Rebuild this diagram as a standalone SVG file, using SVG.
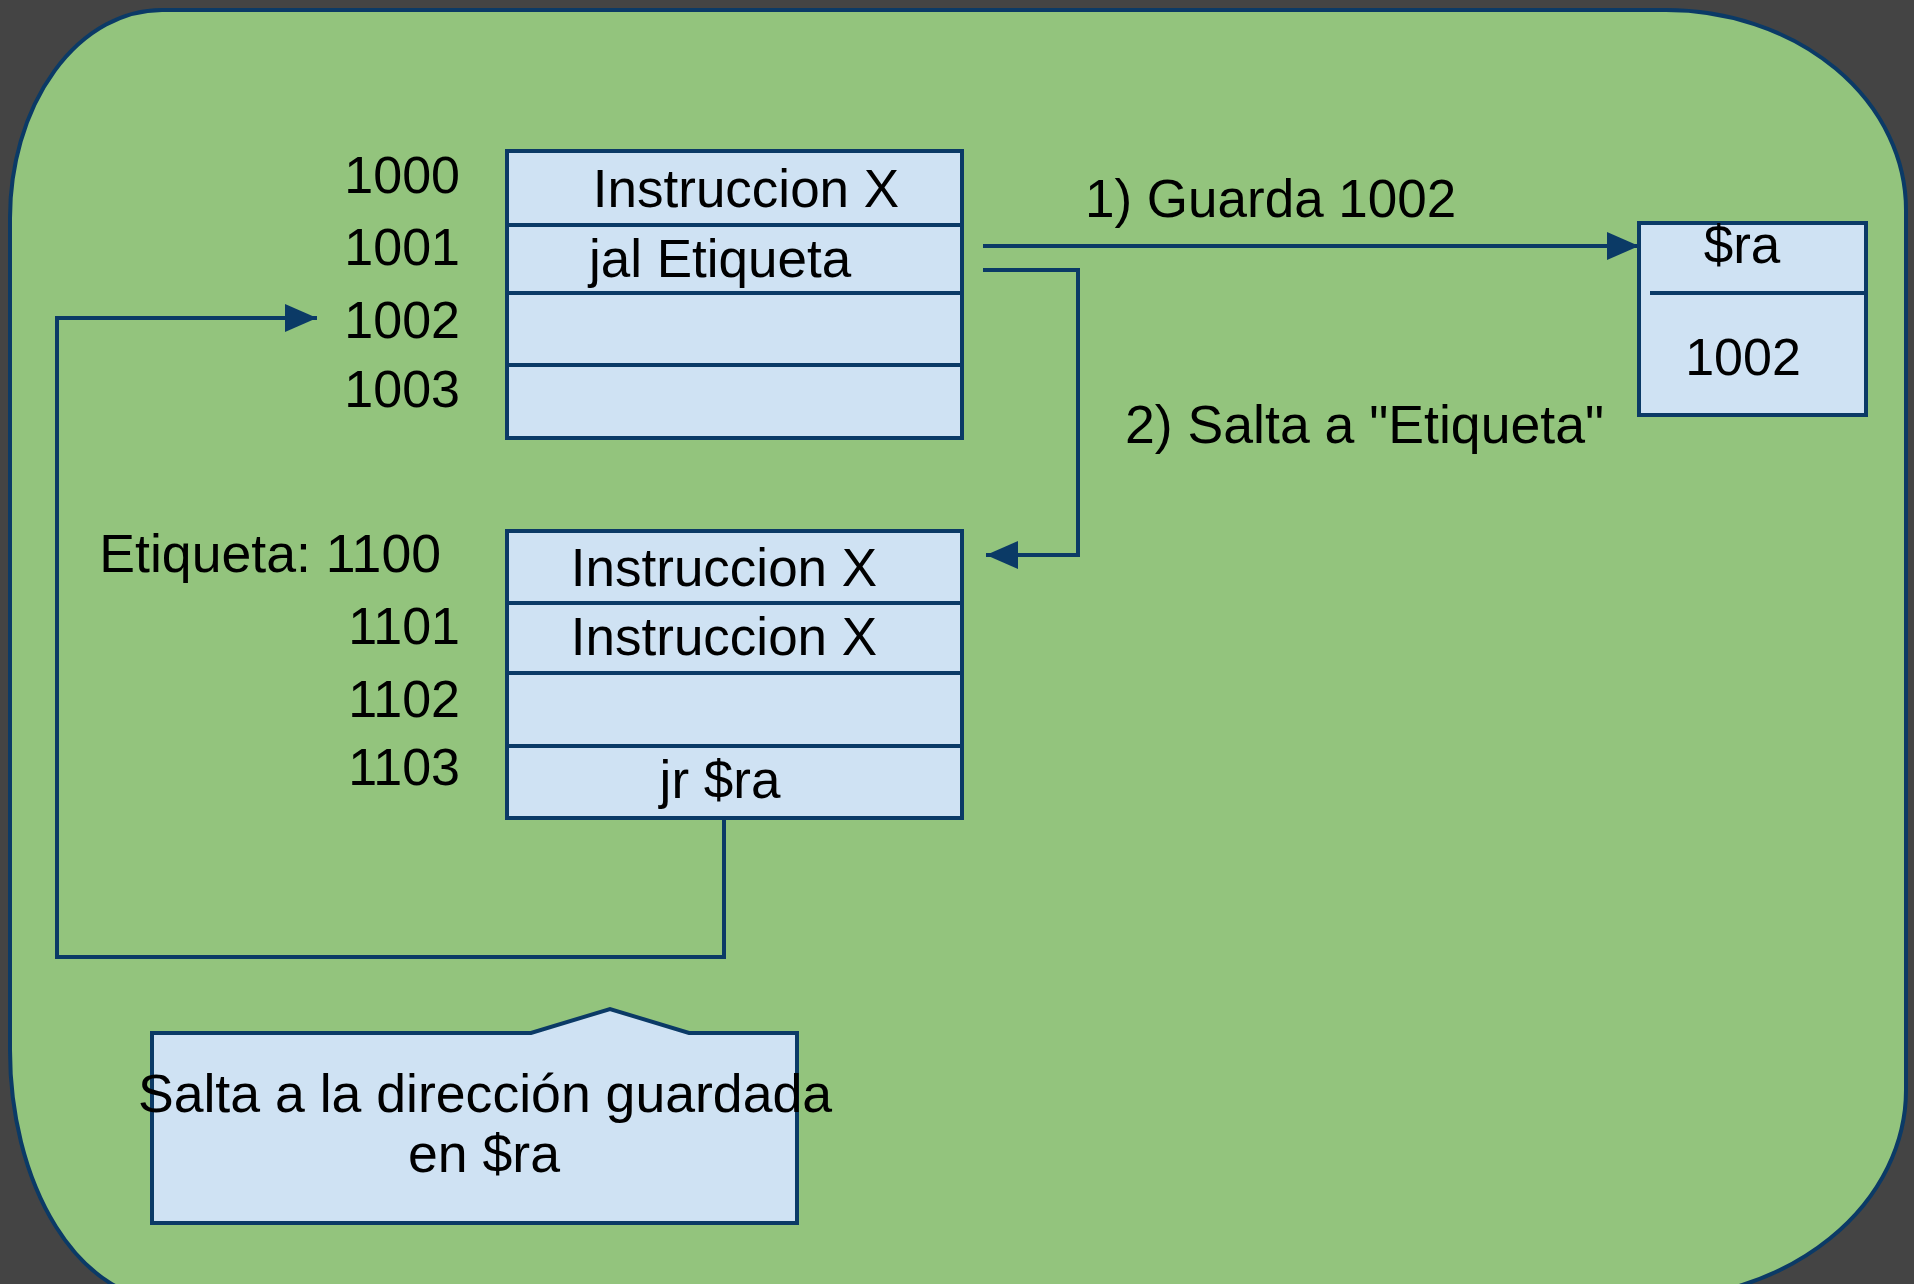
<svg xmlns="http://www.w3.org/2000/svg" width="1914" height="1284" viewBox="0 0 1914 1284">
<style>
.cell{fill:#cfe2f3;stroke:#0b3a66;stroke-width:4}
.conn{fill:none;stroke:#0b3a66;stroke-width:4}
text{font-family:"Liberation Sans",Arial,sans-serif;font-size:53px;fill:#000}
.n{font-size:52px}
.w{font-size:53.6px}
.r{text-anchor:end}
.m{text-anchor:middle}
</style>
<defs>
<marker id="ah" markerUnits="userSpaceOnUse" markerWidth="32" markerHeight="28" refX="32" refY="14" orient="auto">
<path d="M0,0 L32,14 L0,28 Z" fill="#0b3a66"/>
</marker>
</defs>
<rect x="0" y="0" width="1914" height="1284" fill="#444444"/>
<path d="M162 10 H1666 A240 200 0 0 1 1906 210 V1090 A260 210 0 0 1 1646 1300 H167 A157 250 0 0 1 10 1050 V218 A152 208 0 0 1 162 10 Z" fill="#93c47d" stroke="#0b3a66" stroke-width="4"/>
<g id="mem1">
<rect class="cell" x="507" y="151" width="455" height="74"/>
<rect class="cell" x="507" y="225" width="455" height="68"/>
<rect class="cell" x="507" y="293" width="455" height="72"/>
<rect class="cell" x="507" y="365" width="455" height="73"/>
<text class="m" x="746" y="207">Instruccion X</text>
<text class="m" x="720" y="277">jal Etiqueta</text>
<text class="r n" x="460" y="193">1000</text>
<text class="r n" x="460" y="265">1001</text>
<text class="r n" x="460" y="338">1002</text>
<text class="r n" x="460" y="407">1003</text>
</g>
<g id="mem2">
<rect class="cell" x="507" y="531" width="455" height="72"/>
<rect class="cell" x="507" y="603" width="455" height="70"/>
<rect class="cell" x="507" y="673" width="455" height="73"/>
<rect class="cell" x="507" y="746" width="455" height="72"/>
<text class="m" x="724" y="586">Instruccion X</text>
<text class="m" x="724" y="655">Instruccion X</text>
<text class="m" x="720" y="798">jr $ra</text>
<text class="r w" x="441" y="572">Etiqueta: 1100</text>
<text class="r n" x="460" y="644">1101</text>
<text class="r n" x="460" y="717">1102</text>
<text class="r n" x="460" y="785">1103</text>
</g>
<g id="ra">
<rect class="cell" x="1639" y="223" width="227" height="192"/>
<line x1="1650" y1="293" x2="1864" y2="293" stroke="#0b3a66" stroke-width="4"/>
<text class="m" x="1742" y="263">$ra</text>
<text class="m n" x="1743" y="375">1002</text>
</g>
<g id="callout">
<path class="cell" d="M152 1033 H531 L610 1009 L689 1033 H797 V1223 H152 Z"/>
<text class="m w" x="485" y="1112">Salta a la dirección guardada</text>
<text class="m w" x="484" y="1172">en $ra</text>
</g>
<g id="connectors">
<path class="conn" d="M983 246 H1639" marker-end="url(#ah)"/>
<path class="conn" d="M983 270 H1078 V555 H986" marker-end="url(#ah)"/>
<path class="conn" d="M724 818 V957 H57 V318 H317" marker-end="url(#ah)"/>
</g>
<g id="labels">
<text x="1085" y="217">1) Guarda 1002</text>
<text class="w" x="1125" y="443">2) Salta a "Etiqueta"</text>
</g>
</svg>
